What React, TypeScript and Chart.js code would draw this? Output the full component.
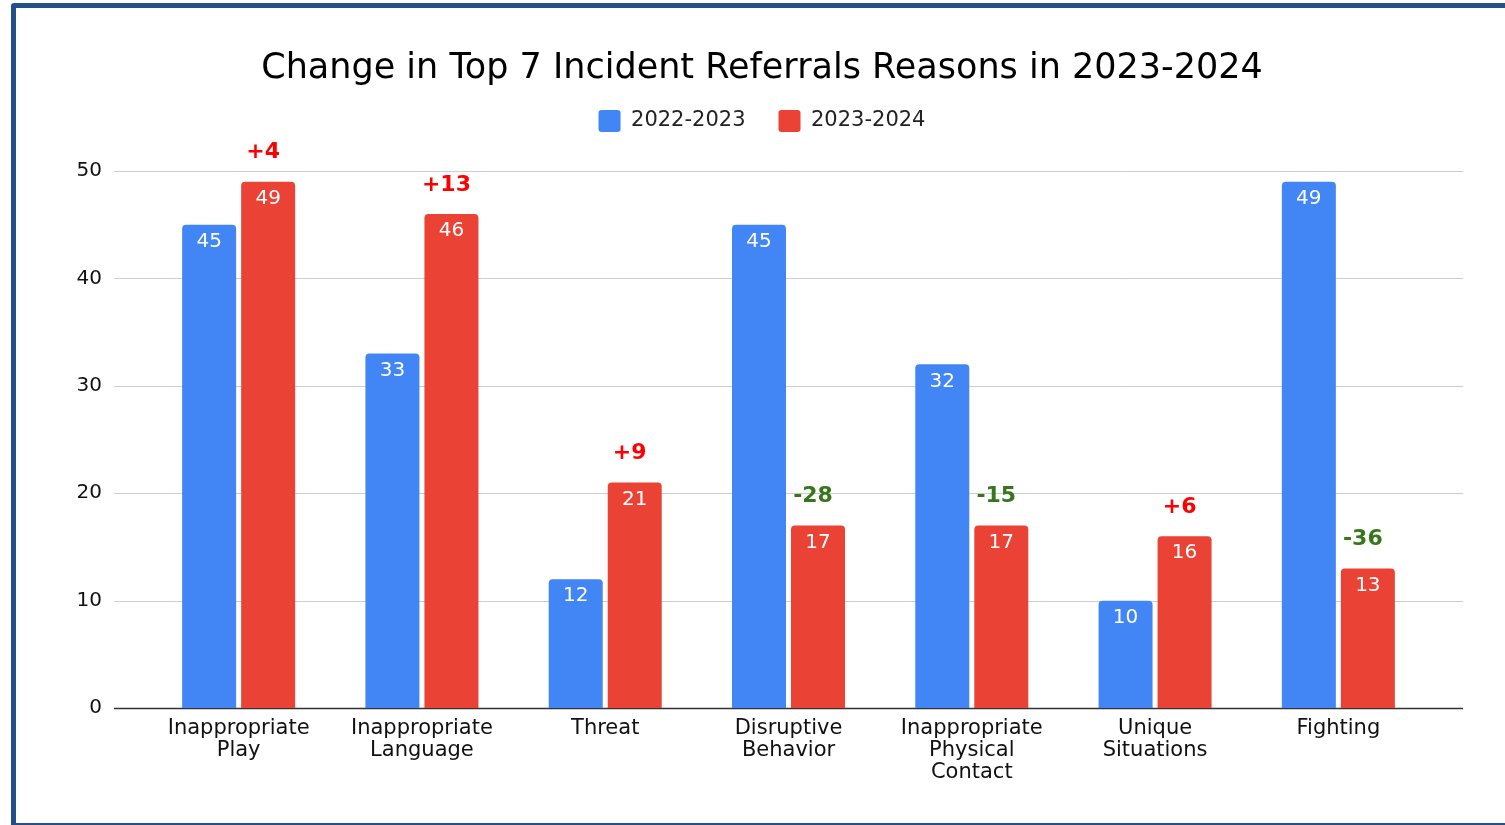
import React, { useEffect, useRef } from "react";
import { Chart, registerables } from "chart.js";
Chart.register(...registerables);

const categories: string[][] = [
  ["Inappropriate", "Play"],
  ["Inappropriate", "Language"],
  ["Threat"],
  ["Disruptive", "Behavior"],
  ["Inappropriate", "Physical", "Contact"],
  ["Unique", "Situations"],
  ["Fighting"],
];
const series2022_2023 = [45, 33, 12, 45, 32, 10, 49];
const series2023_2024 = [49, 46, 21, 17, 17, 16, 13];
const seriesNames = ["2022-2023", "2023-2024"];
const yTickValues = [0, 10, 20, 30, 40, 50];
const chartTitle = "Change in Top 7 Incident Referrals Reasons in 2023-2024";

const FONT = "'DejaVu Sans', 'Liberation Sans', Arial, sans-serif";
const BLUE = "#4285f4";
const RED = "#ea4335";

const gridPlugin = {
  id: "extendedGrid",
  beforeDatasetsDraw(chart: any) {
    const { ctx, chartArea, scales } = chart;
    const y = scales.y;
    ctx.save();
    yTickValues.forEach((v) => {
      const py = Math.round(y.getPixelForValue(v)) + 0.5;
      ctx.beginPath();
      ctx.strokeStyle = v === 0 ? "#333333" : "#cccccc";
      ctx.lineWidth = v === 0 ? 1.5 : 1;
      ctx.moveTo(chartArea.left - 33, py);
      ctx.lineTo(chartArea.right + 33, py);
      ctx.stroke();
    });
    ctx.restore();
  },
};

const labelsPlugin = {
  id: "barLabels",
  afterDatasetsDraw(chart: any) {
    const { ctx } = chart;
    ctx.save();
    ctx.textAlign = "center";
    ctx.textBaseline = "middle";
    ctx.font = `20px ${FONT}`;
    ctx.fillStyle = "#ffffff";
    chart.data.datasets.forEach((ds: any, di: number) => {
      const meta = chart.getDatasetMeta(di);
      meta.data.forEach((bar: any, i: number) => {
        ctx.fillText(String(ds.data[i]), bar.x, bar.y + 17);
      });
    });
    const redMeta = chart.getDatasetMeta(1);
    ctx.font = `bold 22px ${FONT}`;
    redMeta.data.forEach((bar: any, i: number) => {
      const diff = series2023_2024[i] - series2022_2023[i];
      ctx.fillStyle = diff >= 0 ? "#ff0000" : "#38761d";
      const txt = diff >= 0 ? `+${diff}` : `${diff}`;
      ctx.fillText(txt, bar.x - 5, bar.y - 29);
    });
    ctx.restore();
  },
};

const legendSpacer = {
  id: "legendSpacer",
  afterInit(chart: any) {
    const legend = chart.legend;
    if (!legend) return;
    const orig = legend.fit;
    legend.fit = function () {
      orig.call(this);
      this.height += 29;
    };
  },
};

export default function App() {
  const ref = useRef<HTMLCanvasElement | null>(null);
  useEffect(() => {
    document.body.style.overflow = "hidden";
    const chart = new Chart(ref.current as HTMLCanvasElement, {
      type: "bar",
      data: {
        labels: categories,
        datasets: [
          {
            label: seriesNames[0],
            data: series2022_2023,
            backgroundColor: BLUE,
            borderRadius: { topLeft: 4, topRight: 4, bottomLeft: 0, bottomRight: 0 },
            borderSkipped: false,
            categoryPercentage: 0.644,
            barPercentage: 0.915,
          },
          {
            label: seriesNames[1],
            data: series2023_2024,
            backgroundColor: RED,
            borderRadius: { topLeft: 4, topRight: 4, bottomLeft: 0, bottomRight: 0 },
            borderSkipped: false,
            categoryPercentage: 0.644,
            barPercentage: 0.915,
          },
        ],
      },
      options: {
        animation: false,
        responsive: false,
        maintainAspectRatio: false,
        layout: { padding: { left: 19, right: 0, top: 0, bottom: 32 } },
        plugins: {
          title: {
            display: true,
            text: chartTitle,
            color: "#000000",
            font: { family: FONT, size: 35, weight: "normal", lineHeight: 1.2 },
            padding: { top: 48, bottom: -13 },
          },
          legend: {
            display: true,
            position: "top",
            labels: {
              color: "#222222",
              font: { family: FONT, size: 21 },
              boxWidth: 22,
              boxHeight: 22,
              padding: 33,
              useBorderRadius: true,
              borderRadius: 3,
            },
          },
          tooltip: { enabled: false },
        },
        scales: {
          x: {
            grid: { display: false, drawTicks: false },
            border: { display: false },
            ticks: {
              color: "#111111",
              font: { family: FONT, size: 21, lineHeight: 1.03 },
              padding: 10,
              maxRotation: 0,
              autoSkip: false,
            },
          },
          y: {
            min: 0,
            max: 50,
            afterFit: (s: any) => {
              s.width = 128;
            },
            grid: { display: false, drawTicks: false },
            border: { display: false },
            ticks: {
              stepSize: 10,
              color: "#111111",
              font: { family: FONT, size: 20 },
              padding: 45,
            },
          },
          yRight: {
            position: "right",
            min: 0,
            max: 1,
            afterFit: (s: any) => {
              s.width = 75;
            },
            grid: { display: false, drawTicks: false },
            border: { display: false },
            ticks: { display: false },
          },
        },
      },
      plugins: [gridPlugin, labelsPlugin, legendSpacer],
    });
    return () => chart.destroy();
  }, []);
  return (
    <div style={{ position: "fixed", left: 0, top: 0, width: 1505, height: 825, background: "#fff", overflow: "hidden" }}>
      <div
        style={{
          position: "absolute",
          left: 11,
          top: 3,
          width: 1600,
          height: 815,
          border: "5px solid #24508a",
          borderRadius: 3,
        }}
      />
      <canvas ref={ref} width={1505} height={825} style={{ position: "absolute", left: 0, top: 0 }} />
    </div>
  );
}
